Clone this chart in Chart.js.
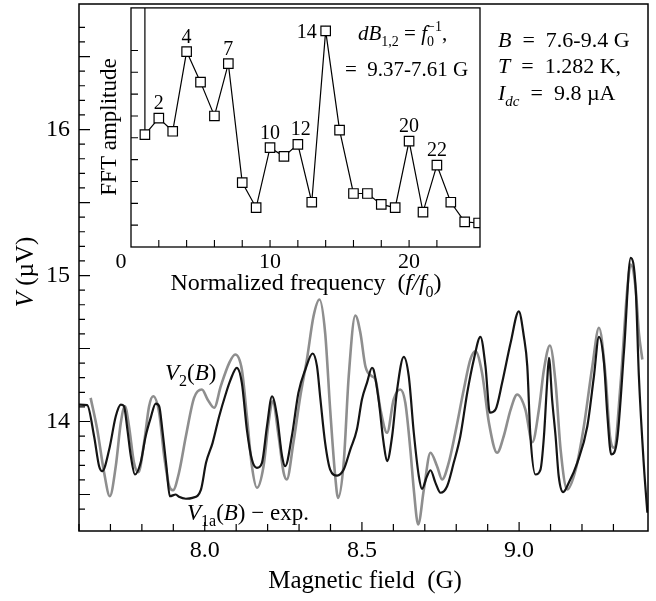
<!DOCTYPE html>
<html>
<head>
<meta charset="utf-8">
<script src="https://cdn.jsdelivr.net/npm/chart.js@4.4.0/dist/chart.umd.min.js"></script>
<style>
html, body { margin: 0; padding: 0; background: #fff; }
#wrap { position: relative; width: 656px; height: 601px; }
#wrap canvas { position: absolute; left: 0; top: 0; }
</style>
</head>
<body>
<div id="wrap">
<canvas id="main" width="656" height="601"></canvas>
<canvas id="inset" width="500" height="300"></canvas>
</div>
<script>
// V1a(B) - experiment (black curve)
var v1aB = [7.600,7.626,7.648,7.664,7.674,7.696,7.717,7.733,7.743,7.754,7.765,7.778,7.796,7.812,7.828,7.844,7.855,7.865,7.878,7.889,
	7.908,7.918,7.940,7.961,7.988,8.004,8.025,8.046,8.067,8.081,8.102,8.118,8.134,8.150,8.166,8.182,8.198,8.214,8.230,8.246,
	8.256,8.277,8.298,8.320,8.343,8.357,8.368,8.383,8.399,8.421,8.442,8.463,8.484,8.500,8.516,8.532,8.537,8.553,8.569,8.580,
	8.596,8.612,8.633,8.649,8.665,8.681,8.691,8.707,8.718,8.734,8.750,8.771,8.792,8.813,8.835,8.856,8.877,8.893,8.907,8.925,
	8.946,8.973,8.999,9.015,9.026,9.036,9.052,9.068,9.079,9.089,9.095,9.105,9.116,9.126,9.140,9.158,9.185,9.217,9.238,9.254,
	9.270,9.281,9.293,9.312,9.334,9.355,9.371,9.381,9.397,9.408];
var v1aV = [14.116,14.112,13.899,13.694,13.660,13.808,14.036,14.116,14.105,13.945,13.762,13.637,13.717,13.899,14.025,14.123,14.105,13.945,13.694,13.488,
	13.500,13.484,13.471,13.477,13.534,13.717,13.854,14.036,14.190,14.280,14.368,14.265,13.945,13.740,13.683,13.717,13.968,14.173,14.036,13.762,
	13.694,13.899,14.197,14.356,14.466,14.379,14.151,13.854,13.671,13.630,13.671,13.808,13.945,14.151,14.265,14.368,14.356,14.151,13.854,13.728,
	13.899,14.219,14.443,14.310,13.923,13.625,13.539,13.625,13.666,13.580,13.512,13.557,13.717,13.899,14.197,14.425,14.580,14.379,14.060,14.082,
	14.265,14.539,14.755,14.584,14.379,13.899,13.637,13.671,13.899,14.265,14.436,14.151,13.899,13.625,13.516,13.580,13.717,13.968,14.310,14.580,
	14.402,14.036,13.774,13.877,14.493,15.121,14.904,14.310,13.694,13.375];

// V2(B) (grey curve)
var v2B = [7.637,7.658,7.680,7.698,7.717,7.733,7.746,7.759,7.775,7.789,7.807,7.823,7.836,7.855,7.871,7.887,7.899,7.918,7.940,7.966,
	7.991,8.009,8.030,8.051,8.078,8.097,8.118,8.134,8.150,8.166,8.187,8.203,8.216,8.235,8.251,8.261,8.282,8.304,8.325,8.346,
	8.365,8.383,8.399,8.415,8.424,8.442,8.458,8.479,8.495,8.511,8.532,8.543,8.559,8.580,8.601,8.622,8.638,8.654,8.665,8.679,
	8.697,8.718,8.739,8.755,8.776,8.797,8.824,8.845,8.861,8.882,8.904,8.930,8.951,8.973,8.994,9.020,9.042,9.063,9.079,9.098,
	9.116,9.132,9.153,9.180,9.206,9.233,9.254,9.275,9.289,9.302,9.323,9.344,9.355,9.371,9.381,9.392];
var v2V = [14.162,13.945,13.649,13.488,13.694,13.991,14.105,13.968,13.717,13.653,13.854,14.105,14.173,14.060,13.762,13.557,13.529,13.649,13.899,14.162,
	14.219,14.151,14.094,14.242,14.402,14.459,14.356,14.036,13.694,13.546,13.694,13.991,14.139,13.899,13.649,13.603,13.854,14.173,14.425,14.721,
	14.836,14.608,14.082,13.625,13.477,13.717,14.310,14.726,14.608,14.379,14.310,14.288,14.082,13.923,14.151,14.219,14.128,13.808,13.534,13.295,
	13.534,13.786,13.694,13.603,13.717,13.923,14.219,14.425,14.481,14.334,13.991,13.786,13.899,14.082,14.185,14.082,13.858,14.082,14.356,14.521,
	14.265,13.808,13.534,13.671,13.968,14.379,14.642,14.310,13.899,13.820,14.265,14.904,15.075,14.904,14.608,14.425];

// FFT inset
var fftFreq = [1,2,3,4,5,6,7,8,9,10,11,12,13,14,15,16,17,18,19,20,21,22,23,24,25];
var fftAmp = [0.103,0.118,0.106,0.179,0.151,0.120,0.168,0.059,0.036,0.091,0.083,0.094,0.041,0.198,0.107,0.049,0.049,0.039,0.036,0.097,0.032,0.075,0.041,0.023,0.022];
var fftPeaks = [2,4,7,10,12,14,20,22];

// axis ranges and labelled ticks
var mainXMin = 7.6, mainXMax = 9.41, mainYMin = 13.25, mainYMax = 16.86;
var mainXLabels = [8.0, 8.5, 9.0];
var mainYLabels = [14, 15, 16];
var insetXMax = 25.1, insetYMax = 0.219;
var insetXLabels = [10, 20];
var insetYLabels = [0.2];

var SERIF = '"Liberation Serif", "Times New Roman", serif';
Chart.defaults.font.family = SERIF;
Chart.defaults.color = '#000';

function inList(v, list) {
	for (var i = 0; i < list.length; i++) {
		if (Math.abs(v - list[i]) < 1e-6) return true;
	}
	return false;
}

function isStep(v, step) {
	var k = v / step;
	return Math.abs(k - Math.round(k)) < 1e-6;
}

// fixed-size axis boxes, no extra room for half labels at the ends
function fixBox(w, h) {
	return function (s) {
		if (w !== null) s.width = w;
		if (h !== null) s.height = h;
		s.paddingTop = 0;
		s.paddingBottom = 0;
		s.paddingLeft = 0;
		s.paddingRight = 0;
	};
}

// flags: i = italic, b = subscript, p = superscript, s = no advance (stacked)
function richText(ctx, parts, x, y, size, align) {
	var pieces = parts.map(function (p) {
		var f = p[1] || '';
		var small = f.indexOf('b') >= 0 || f.indexOf('p') >= 0;
		var font = (f.indexOf('i') >= 0 ? 'italic ' : '') + (small ? Math.round(size * 0.68) : size) + 'px ' + SERIF;
		ctx.font = font;
		return {
			t: p[0], font: font, w: ctx.measureText(p[0]).width,
			dy: f.indexOf('b') >= 0 ? size * 0.28 : (f.indexOf('p') >= 0 ? -size * 0.42 : 0),
			adv: f.indexOf('s') < 0
		};
	});
	var total = 0;
	pieces.forEach(function (p) { if (p.adv) total += p.w; });
	var cx = align === 'center' ? x - total / 2 : (align === 'right' ? x - total : x);
	ctx.textAlign = 'left';
	ctx.textBaseline = 'alphabetic';
	pieces.forEach(function (p) {
		ctx.font = p.font;
		ctx.fillText(p.t, cx, y + p.dy);
		if (p.adv) cx += p.w;
	});
}

var mainDecor = {
	id: 'mainDecor',
	afterDraw: function (chart) {
		var ctx = chart.ctx, a = chart.chartArea, xs = chart.scales.x, ys = chart.scales.y;
		ctx.save();
		ctx.strokeStyle = '#000';
		ctx.lineWidth = 1.5;
		ctx.strokeRect(a.left, a.top, a.right - a.left, a.bottom - a.top);
		ctx.lineWidth = 1.2;
		ctx.beginPath();
		xs.ticks.forEach(function (t) {
			if (!isStep(t.value, 0.1)) return;
			var px = xs.getPixelForValue(t.value), len = isStep(t.value, 0.5) ? 9 : 7;
			ctx.moveTo(px, a.bottom);
			ctx.lineTo(px, a.bottom - len);
		});
		ys.ticks.forEach(function (t) {
			if (!isStep(t.value, 0.1)) return;
			var py = ys.getPixelForValue(t.value), len = isStep(t.value, 0.5) ? 11 : 6;
			ctx.moveTo(a.left, py);
			ctx.lineTo(a.left + len, py);
		});
		ctx.stroke();

		ctx.fillStyle = '#000';
		richText(ctx, [['Magnetic field  (G)']], 365, 588, 25, 'center');
		ctx.save();
		ctx.translate(33, 272);
		ctx.rotate(-Math.PI / 2);
		richText(ctx, [['V', 'i'], [' (\u00b5V)']], 0, 0, 25, 'center');
		ctx.restore();

		richText(ctx, [['B', 'i'], ['\u2002=\u20027.6-9.4 G']], 498, 47, 22, 'left');
		richText(ctx, [['T', 'i'], ['\u2002=\u20021.282 K,']], 498, 73, 22, 'left');
		richText(ctx, [['I', 'i'], ['dc', 'ib'], ['\u2002=\u20029.8 \u00b5A']], 498, 100, 22, 'left');

		richText(ctx, [['V', 'i'], ['2', 'b'], ['('], ['B', 'i'], [')']], 165, 380, 23, 'left');
		richText(ctx, [['V', 'i'], ['1a', 'b'], ['('], ['B', 'i'], [') \u2212 exp.']], 187, 520, 23, 'left');
		ctx.restore();
	}
};

new Chart(document.getElementById('main'), {
	type: 'line',
	data: {
		datasets: [
			{
				label: 'V1a(B) - exp.',
				data: v1aB.map(function (b, i) { return { x: b, y: v1aV[i] }; }),
				borderColor: '#141414',
				borderWidth: 2.2,
				pointRadius: 0,
				cubicInterpolationMode: 'monotone',
				fill: false
			},
			{
				label: 'V2(B)',
				data: v2B.map(function (b, i) { return { x: b, y: v2V[i] }; }),
				borderColor: '#8e8e8e',
				borderWidth: 2.6,
				pointRadius: 0,
				cubicInterpolationMode: 'monotone',
				fill: false
			}
		]
	},
	options: {
		responsive: false,
		animation: false,
		events: [],
		layout: { padding: { top: 4, right: 8, left: 0, bottom: 0 } },
		plugins: { legend: { display: false }, tooltip: { enabled: false } },
		scales: {
			x: {
				type: 'linear', min: mainXMin, max: mainXMax,
				grid: { display: false, drawTicks: false, tickLength: 0 },
				border: { display: false },
				ticks: {
					stepSize: 0.1, autoSkip: false, maxRotation: 0, padding: 5,
					font: { size: 24 },
					callback: function (v) { return inList(v, mainXLabels) ? v.toFixed(1) : ''; }
				},
				afterFit: fixBox(null, 70)
			},
			y: {
				type: 'linear', min: mainYMin, max: mainYMax,
				grid: { display: false, drawTicks: false, tickLength: 0 },
				border: { display: false },
				ticks: {
					stepSize: 0.1, autoSkip: false, padding: 9,
					font: { size: 24 },
					callback: function (v) { return inList(v, mainYLabels) ? String(Math.round(v)) : ''; }
				},
				afterFit: fixBox(79, null)
			}
		}
	},
	plugins: [mainDecor]
});

var insetDecor = {
	id: 'insetDecor',
	afterDraw: function (chart) {
		var ctx = chart.ctx, a = chart.chartArea, xs = chart.scales.x, ys = chart.scales.y;
		ctx.save();
		ctx.strokeStyle = '#000';
		ctx.lineWidth = 1.3;
		ctx.strokeRect(a.left, a.top, a.right - a.left, a.bottom - a.top);
		ctx.lineWidth = 1.1;
		ctx.beginPath();
		xs.ticks.forEach(function (t) {
			if (!isStep(t.value, 2) || t.value === 0) return;
			var px = xs.getPixelForValue(t.value);
			ctx.moveTo(px, a.bottom);
			ctx.lineTo(px, a.bottom - 7);
		});
		ys.ticks.forEach(function (t) {
			if (!isStep(t.value, 0.02) || t.value === 0) return;
			var py = ys.getPixelForValue(t.value);
			ctx.moveTo(a.left, py);
			ctx.lineTo(a.left + 7, py);
		});
		ctx.stroke();

		ctx.fillStyle = '#000';
		// origin label sits left of the axis corner
		ctx.font = '22px ' + SERIF;
		ctx.textAlign = 'center';
		ctx.textBaseline = 'middle';
		ctx.fillText('0', xs.getPixelForValue(0) - 10, a.bottom + 2 + 13.2);

		// peak numbers
		fftPeaks.forEach(function (f) {
			var i = fftFreq.indexOf(f);
			var px = xs.getPixelForValue(f), py = ys.getPixelForValue(fftAmp[i]);
			ctx.font = '20px ' + SERIF;
			ctx.textBaseline = 'alphabetic';
			if (f === 14) {
				ctx.textAlign = 'right';
				ctx.fillText(String(f), px - 9, py + 7);
			} else {
				ctx.textAlign = 'center';
				ctx.fillText(String(f), px + (f === 12 ? 3 : 0), py - 9);
			}
		});

		richText(ctx, [['dB', 'i'], ['1,2', 'b'], [' = '], ['f', 'i'], ['0', 'bs'], ['\u22121', 'p'], [',']], 358, 40, 21, 'left');
		richText(ctx, [['=\u20029.37-7.61 G']], 345, 76, 21, 'left');

		richText(ctx, [['Normalized frequency  ('], ['f/f', 'i'], ['0', 'b'], [')']], 306, 290, 24, 'center');
		ctx.save();
		ctx.translate(116, 127);
		ctx.rotate(-Math.PI / 2);
		richText(ctx, [['FFT amplitude']], 0, 0, 23, 'center');
		ctx.restore();
		ctx.restore();
	}
};

new Chart(document.getElementById('inset'), {
	type: 'line',
	data: {
		datasets: [
			{
				label: 'FFT',
				data: fftFreq.map(function (f, i) { return { x: f, y: fftAmp[i] }; }),
				borderColor: '#000',
				borderWidth: 1.2,
				tension: 0,
				pointStyle: 'rect',
				pointRadius: 6.7,
				pointBackgroundColor: '#fff',
				pointBorderColor: '#000',
				pointBorderWidth: 1.2,
				fill: false
			},
			{
				label: 'lead-in',
				data: [{ x: fftFreq[0], y: insetYMax }, { x: fftFreq[0], y: fftAmp[0] }],
				borderColor: '#000',
				borderWidth: 1.2,
				pointRadius: 0,
				fill: false
			}
		]
	},
	options: {
		responsive: false,
		animation: false,
		events: [],
		layout: { padding: { top: 4, right: 20, left: 0, bottom: 0 } },
		plugins: { legend: { display: false }, tooltip: { enabled: false } },
		scales: {
			x: {
				type: 'linear', min: 0, max: insetXMax,
				grid: { display: false, drawTicks: false, tickLength: 0 },
				border: { display: false },
				ticks: {
					stepSize: 2, autoSkip: false, maxRotation: 0, padding: 2,
					font: { size: 22 },
					callback: function (v) { return inList(v, insetXLabels) ? String(v) : ''; }
				},
				afterFit: fixBox(null, 53)
			},
			y: {
				type: 'linear', min: 0, max: insetYMax,
				grid: { display: false, drawTicks: false, tickLength: 0 },
				border: { display: false },
				ticks: {
					stepSize: 0.02, autoSkip: false, padding: 8,
					font: { size: 22 },
					callback: function (v) { return inList(v, insetYLabels) ? '0.2' : ''; }
				},
				afterFit: fixBox(131, null)
			}
		}
	},
	plugins: [insetDecor]
});
</script>
</body>
</html>
